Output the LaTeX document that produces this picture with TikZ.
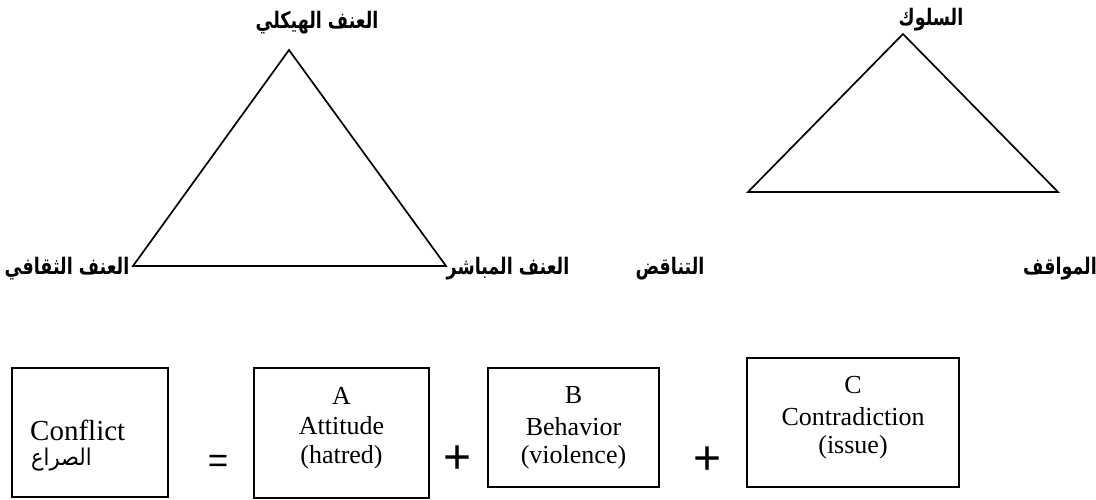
\documentclass[tikz,border=0pt]{standalone}
\usepackage{fontspec}
\setmainfont{Liberation Serif}
\newfontfamily\arabicfont[Script=Arabic]{DejaVu Sans}
\newfontfamily\symfont{Liberation Sans}
\TeXXeTstate=1
\newcommand{\artall}[1]{\scalebox{1}[1.3]{\beginR #1\endR}}
\begin{document}
\begin{tikzpicture}[x=1pt,y=-1pt,
  tri/.style={line width=1.7pt,line join=miter},
  arlab/.style={font=\arabicfont\bfseries\fontsize{17.5}{20}\selectfont,inner sep=0pt,anchor=base},
  box/.style={draw,line width=2pt,inner sep=0pt},
  boxtext/.style={font=\fontsize{26}{30}\selectfont,inner sep=0pt,anchor=base},
  sym/.style={inner sep=0pt}]
\useasboundingbox (0,0) rectangle (1096,500);

% violence triangle
\coordinate (t1a) at (289,50);
\coordinate (t1l) at (133,266);
\coordinate (t1r) at (446,266);
\draw[tri] (t1a) -- (t1r) -- (t1l) -- cycle;
\node[arlab] (l1top) at (317,29) {\artall{العنف الهيكلي}};
\node[arlab] (l1left) at (67,274) {\artall{العنف الثقافي}};
\node[arlab] (l1right) at (508,274) {\artall{العنف المباشر}};

% ABC triangle
\coordinate (t2a) at (903,34);
\coordinate (t2l) at (748,192);
\coordinate (t2r) at (1058,192);
\draw[tri] (t2a) -- (t2r) -- (t2l) -- cycle;
\node[arlab] (l2top) at (931,26) {\artall{السلوك}};
\node[arlab] (l2mid) at (670,274) {\artall{التناقض}};
\node[arlab] (l2right) at (1060,274) {\artall{المواقف}};

% equation boxes
\node[box,minimum width=156pt,minimum height=129pt] (conf) at (90,432.5) {};
\node[font=\fontsize{29}{33}\selectfont,inner sep=0pt,anchor=base west] (conftxt) at (30,440) {Conflict};
\node[font=\arabicfont\fontsize{21}{25}\selectfont,inner sep=0pt,anchor=base west] (confar) at (31,465) {\scalebox{1}[1.1]{\beginR الصراع\endR}};

\node[sym,font=\symfont\fontsize{35}{40}\selectfont] (eq) at (218,464) {=};

\node[box,minimum width=175pt,minimum height=130pt] (boxa) at (341.5,433) {};
\node[boxtext] (a1) at (341.5,404) {A};
\node[boxtext] (a2) at (341.5,434) {Attitude};
\node[boxtext] (a3) at (341.5,463) {(hatred)};

\node[sym,font=\symfont\fontsize{48}{52}\selectfont] (plus1) at (458,460) {+};

\node[box,minimum width=171pt,minimum height=119pt] (boxb) at (573.5,427.5) {};
\node[boxtext] (b1) at (573.5,403) {B};
\node[boxtext] (b2) at (573.5,435) {Behavior};
\node[boxtext] (b3) at (573.5,463) {(violence)};

\node[sym,font=\symfont\fontsize{48}{52}\selectfont] (plus2) at (708,461) {+};

\node[box,minimum width=212pt,minimum height=129pt] (boxc) at (853,422.5) {};
\node[boxtext] (c1) at (853,393) {C};
\node[boxtext] (c2) at (853,425) {Contradiction};
\node[boxtext] (c3) at (853,453) {(issue)};
\end{tikzpicture}
\end{document}
